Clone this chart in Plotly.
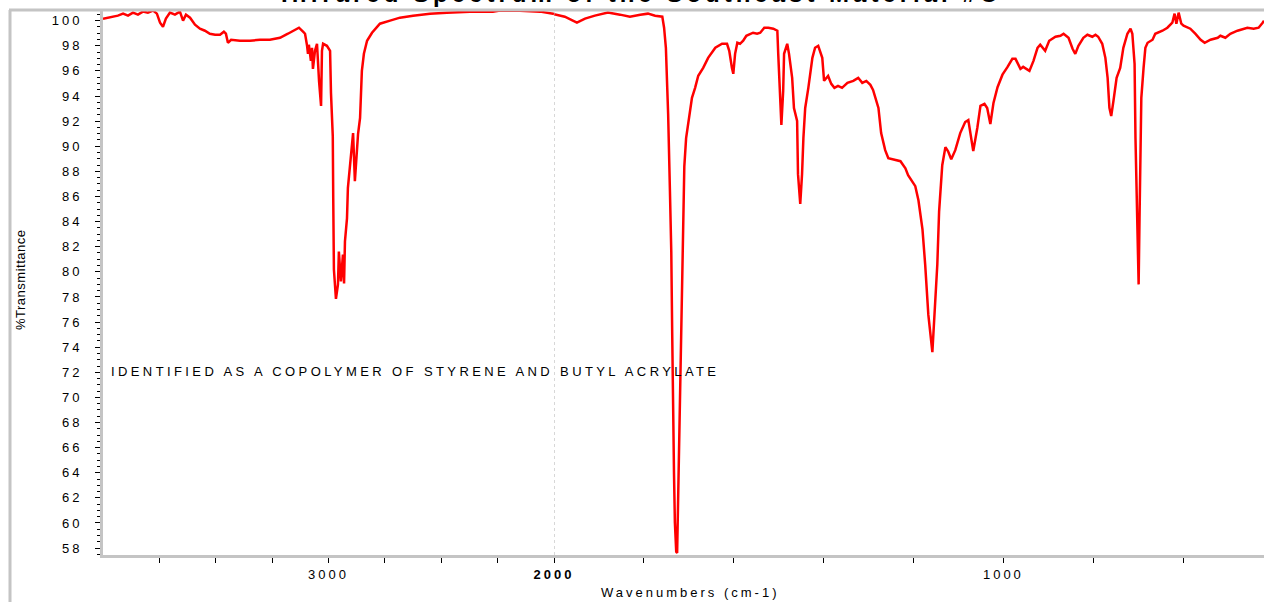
import plotly.graph_objects as go

# ---- data (wavenumber cm-1, %T) ----
wn_hi = [4000, 3978, 3956, 3934, 3911, 3889, 3867, 3845, 3823, 3801, 3778, 3761, 3747, 3734, 3721,
         3703, 3681, 3659, 3645, 3632, 3614, 3592, 3570, 3548, 3526, 3503, 3481, 3464, 3455, 3446,
         3432, 3393, 3348, 3304, 3260, 3215, 3180, 3149, 3131, 3113, 3104, 3095, 3091, 3087, 3078,
         3073, 3069, 3060, 3051, 3042, 3033, 3029, 3024, 3007, 2993, 2989, 2981, 2979, 2976, 2967,
         2958, 2954, 2945, 2936, 2931, 2927, 2918, 2914, 2905, 2896, 2891, 2883, 2874, 2869, 2860,
         2852, 2843, 2829, 2807, 2772, 2727, 2683, 2625, 2550, 2475, 2373, 2271, 2239, 2151, 2062,
         2004, 2000]
t_hi = [100.16, 100.24, 100.32, 100.40, 100.56, 100.40, 100.64, 100.48, 100.72, 100.64, 100.80, 100.56,
        99.84, 99.52, 100.16, 100.64, 100.48, 100.72, 100.00, 100.48, 100.24, 99.68, 99.36, 99.20,
        98.96, 98.88, 98.88, 99.12, 98.96, 98.24, 98.48, 98.40, 98.40, 98.48, 98.48, 98.64, 98.96,
        99.28, 99.44, 99.12, 98.96, 98.00, 97.36, 98.08, 96.80, 97.84, 96.16, 97.60, 98.16, 95.21,
        93.21, 97.60, 98.16, 98.00, 97.60, 94.25, 90.81, 85.86, 80.18, 77.85, 78.99, 81.62, 79.23,
        81.38, 79.07, 82.42, 84.26, 86.66, 88.65, 90.65, 91.05, 87.22, 89.37, 90.97, 92.25, 96.00,
        97.36, 98.40, 99.04, 99.76, 100.00, 100.24, 100.40, 100.56, 100.64, 100.72, 100.72, 100.80,
        100.80, 100.72, 100.56, 100.52]

wn_lo = [2000, 1976, 1949, 1931, 1909, 1880, 1853, 1831, 1808, 1791, 1775, 1759, 1755, 1751, 1748,
         1746, 1742, 1739, 1737, 1735, 1733, 1731, 1728, 1726, 1724, 1722, 1719, 1717, 1715, 1713,
         1710, 1706, 1699, 1693, 1686, 1679, 1668, 1657, 1641, 1626, 1615, 1610, 1604, 1601, 1597,
         1592, 1586, 1579, 1572, 1564, 1557, 1548, 1541, 1532, 1523, 1512, 1503, 1501, 1497, 1494,
         1490, 1488, 1481, 1477, 1470, 1466, 1459, 1457, 1452, 1448, 1445, 1441, 1434, 1425, 1419,
         1412, 1403, 1399, 1390, 1383, 1376, 1368, 1359, 1347, 1334, 1323, 1314, 1305, 1296, 1290,
         1278, 1272, 1263, 1256, 1229, 1218, 1212, 1196, 1189, 1180, 1174, 1167, 1158, 1154, 1147,
         1143, 1136, 1129, 1123, 1116, 1107, 1096, 1085, 1078, 1071, 1067, 1058, 1051, 1042, 1036,
         1029, 1022, 1013, 1002, 991, 980, 973, 962, 956, 942, 933, 924, 918, 907, 898, 884, 873,
         866, 855, 846, 840, 833, 822, 813, 802, 795, 789, 780, 773, 768, 764, 760, 755, 748, 740,
         733, 724, 717, 713, 708, 706, 704, 702, 699, 697, 695, 693, 688, 684, 679, 668, 662, 646,
         635, 624, 619, 615, 610, 604, 599, 584, 573, 561, 552, 539, 523, 517, 506, 495, 479, 466,
         457, 443, 432, 423, 420]
t_lo = [100.52, 100.32, 99.84, 100.16, 100.40, 100.64, 100.48, 100.32, 100.48, 100.56, 100.40, 100.32,
        99.44, 97.84, 94.65, 92.57, 86.42, 81.62, 75.23, 67.24, 64.04, 60.05, 57.70, 57.62, 61.65,
        66.44, 71.24, 77.63, 81.62, 85.62, 88.40, 90.65, 92.25, 93.85, 94.65, 95.61, 96.24, 97.04,
        97.84, 98.16, 98.16, 97.60, 96.24, 95.77, 97.36, 98.24, 98.16, 98.40, 98.80, 98.96, 99.04,
        98.96, 99.04, 99.44, 99.44, 99.36, 99.20, 97.36, 94.17, 91.70, 94.41, 97.36, 98.16, 97.36,
        95.45, 93.05, 92.01, 87.78, 85.40, 87.78, 90.65, 93.05, 94.65, 97.04, 97.84, 98.00, 97.04,
        95.21, 95.60, 94.97, 94.65, 94.81, 94.65, 95.05, 95.21, 95.45, 95.05, 95.20, 94.89, 94.49,
        93.05, 91.05, 89.69, 89.05, 88.81, 88.25, 87.70, 86.82, 85.70, 83.38, 80.58, 76.59, 73.60,
        76.03, 80.58, 84.82, 88.49, 89.93, 89.60, 88.97, 89.69, 91.05, 91.93, 92.09, 90.41, 89.61,
        91.45, 93.21, 93.37, 93.05, 91.77, 93.45, 94.70, 95.70, 96.30, 96.96, 96.96, 96.16, 96.32,
        96.00, 96.80, 97.84, 98.08, 97.60, 98.40, 98.72, 98.80, 98.96, 98.64, 97.76, 97.36, 98.00,
        98.64, 98.88, 98.72, 98.88, 98.72, 98.16, 97.04, 95.45, 93.05, 92.41, 93.61, 95.45, 96.24,
        97.84, 98.96, 99.36, 98.96, 96.56, 90.65, 86.42, 82.18, 79.00, 84.26, 89.37, 93.85, 96.24,
        97.84, 98.24, 98.48, 98.96, 99.20, 99.44, 99.84, 100.56, 99.76, 100.64, 99.76, 99.60, 99.36,
        98.96, 98.48, 98.24, 98.48, 98.64, 98.80, 98.64, 98.96, 99.20, 99.36, 99.44, 99.36, 99.44,
        99.84, 100.00]

y_ticks = list(range(58, 101, 2))
x_ticks_hi = [3750, 3500, 3250, 3000, 2750, 2500, 2250, 2000]
x_labels_hi = ["", "", "", "3000", "", "", "", "<b>2000</b>"]
x_ticks_lo = [1800, 1600, 1400, 1200, 1000, 800, 600]
x_labels_lo = ["", "", "", "", "1000", "", ""]

note = "IDENTIFIED AS A COPOLYMER OF STYRENE AND BUTYL ACRYLATE"
x_title = "Wavenumbers (cm-1)"
y_title = "%Transmittance"
title = "Infrared Spectrum of the Southeast Material #C"

# ---- layout geometry (page pixels; figure is a bit wider than the window, right part clipped) ----
W, H = 1284, 602
P_LEFT, P_RIGHT, P_TOP, P_BOTTOM = 103, 1264, 10, 555
ML, MT = P_LEFT, P_TOP
MR, MB = W - P_RIGHT, H - P_BOTTOM
PW = P_RIGHT - P_LEFT
PH = P_BOTTOM - P_TOP
split = (554 - P_LEFT) / PW
LS = "letter-spacing:3px"
FONT = "Liberation Sans, Arial, sans-serif"
GRAY = "#c4c4c4"


def sp(s, ls=LS):
    return f'<span style="{ls}">{s}</span>' if s else ""


def px2paper_x(px):
    return (px - P_LEFT) / PW


def px2paper_y(py):
    return (P_BOTTOM - py) / PH


fig = go.Figure()
fig.add_trace(go.Scatter(x=wn_hi, y=t_hi, mode="lines", xaxis="x", yaxis="y",
                         line=dict(color="#ff0000", width=2.5), showlegend=False))
fig.add_trace(go.Scatter(x=wn_lo, y=t_lo, mode="lines", xaxis="x2", yaxis="y",
                         line=dict(color="#ff0000", width=2.5), showlegend=False))

axis_common = dict(showgrid=False, zeroline=False, showline=True, linecolor=GRAY, linewidth=3,
                   ticks="outside", ticklen=5, tickcolor="black", tickwidth=1,
                   tickfont=dict(family=FONT, size=13, color="black"))

fig.update_layout(
    width=W, height=H,
    margin=dict(l=ML, r=MR, t=MT, b=MB, pad=0, autoexpand=False),
    paper_bgcolor="white", plot_bgcolor="white",
    font=dict(family=FONT, size=13, color="black"),
    xaxis=dict(domain=[0, split], range=[4000, 2000], tickmode="array",
               tickvals=x_ticks_hi, ticktext=[sp(t) for t in x_labels_hi], anchor="y", **axis_common),
    xaxis2=dict(domain=[split, 1], range=[2000, 420], tickmode="array",
                tickvals=x_ticks_lo, ticktext=[sp(t) for t in x_labels_lo], anchor="y", **axis_common),
    yaxis=dict(range=[57.45, 100.85], tickmode="array", tickvals=y_ticks,
               ticktext=[sp(str(v)) for v in y_ticks], ticklabelstandoff=10,
               minor=dict(dtick=0.5, ticks="outside", ticklen=3, tickcolor="black"),
               **axis_common),
)

# dotted line at 2000
fig.add_shape(type="line", xref="x2", yref="paper", x0=2000, x1=2000, y0=0, y1=1,
              line=dict(color="#b0b0b0", width=1, dash="dot"))
# window frame lines
fig.add_shape(type="line", xref="paper", yref="paper", x0=px2paper_x(9), x1=1.0,
              y0=1, y1=1, line=dict(color=GRAY, width=3))
fig.add_shape(type="line", xref="paper", yref="paper", x0=px2paper_x(10), x1=px2paper_x(10),
              y0=1, y1=px2paper_y(606), line=dict(color=GRAY, width=3))

fig.add_annotation(text=sp(note, "letter-spacing:3.4px"), xref="paper", yref="paper",
                   x=px2paper_x(109), y=px2paper_y(372),
                   xanchor="left", yanchor="middle", showarrow=False,
                   font=dict(family=FONT, size=13, color="black"))
fig.add_annotation(text=sp(x_title), xref="paper", yref="paper", x=px2paper_x(690), y=px2paper_y(592),
                   xanchor="center", yanchor="middle", showarrow=False,
                   font=dict(family=FONT, size=13, color="black"))
fig.add_annotation(text=sp(y_title, "letter-spacing:0.5px"), xref="paper", yref="paper",
                   x=px2paper_x(20), y=px2paper_y(280), textangle=-90,
                   xanchor="center", yanchor="middle", showarrow=False,
                   font=dict(family=FONT, size=13, color="black"))
fig.add_annotation(text=sp("<b>" + title + "</b>", "letter-spacing:4px"), xref="paper", yref="paper",
                   x=px2paper_x(641), y=px2paper_y(-7), xanchor="center", yanchor="middle",
                   showarrow=False, font=dict(family=FONT, size=24, color="black"))

fig.write_html("out.html", config={"displayModeBar": False},
               post_script="document.body.style.margin='0';document.body.style.overflow='hidden';")
